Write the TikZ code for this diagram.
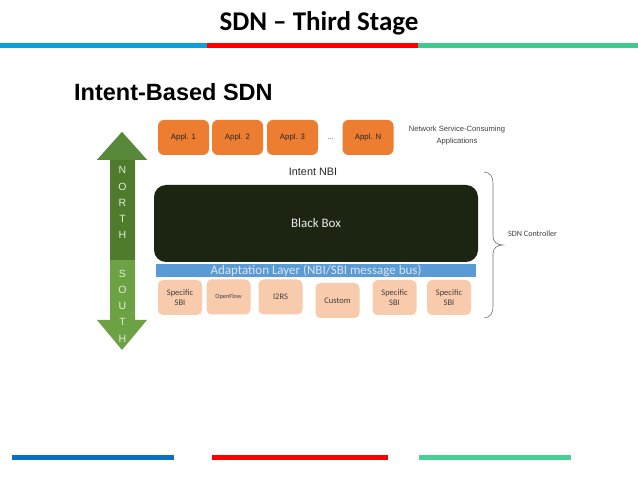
\documentclass[tikz,border=0pt]{standalone}
\usepackage{fontspec}
\setmainfont{Carlito}
\newfontfamily\arialf{Liberation Sans}
\definecolor{barblue}{HTML}{0BA0DC}
\definecolor{barred}{HTML}{FF0000}
\definecolor{bargreen}{HTML}{3FCA91}
\definecolor{botblue}{HTML}{0A70C2}
\definecolor{botgreen}{HTML}{48CF98}
\definecolor{applorange}{HTML}{ED7D31}
\definecolor{sbipeach}{HTML}{F8CBAD}
\definecolor{blackbox}{HTML}{1B2512}
\definecolor{adaptblue}{HTML}{5B9BD5}
\definecolor{adapttext}{HTML}{DCE5F4}
\definecolor{darkgreen}{HTML}{4F7B2D}
\definecolor{midgreen}{HTML}{58883A}
\definecolor{lightgreen}{HTML}{6DA244}
\definecolor{lettergreen}{HTML}{E0EDD6}
\definecolor{textgray}{HTML}{404040}
\tikzset{
  applbox/.style={fill=applorange, draw=none, rounded corners=6pt, minimum width=51pt, minimum height=35pt, inner sep=0pt, font=\arialf\fontsize{7.8}{9}\selectfont, text=black!85},
  sbibox/.style={fill=sbipeach, draw=none, rounded corners=5pt, minimum width=44pt, minimum height=35pt, inner sep=0pt, align=center, font=\fontsize{8.5}{10.5}\selectfont, text=textgray},
  letter/.style={font=\arialf\fontsize{10.5}{11}\selectfont, text=lettergreen, inner sep=0pt},
  smalltext/.style={font=\arialf\fontsize{7.6}{12}\selectfont, text=textgray, align=center, inner sep=0pt}
}
\begin{document}
\begin{tikzpicture}[x=1pt,y=-1pt]
\useasboundingbox (0,0) rectangle (638,478);
\fill[white] (0,0) rectangle (638,478);
% title
\node[font=\bfseries\fontsize{27}{32}\selectfont, inner sep=0pt, anchor=base] (title) at (319,31) {SDN -- Third Stage};
\fill[barblue] (0,43) rectangle (207,48);
\fill[barred] (207,43) rectangle (418,48);
\fill[bargreen] (418,43) rectangle (638,48);
% bottom bars
\fill[botblue] (12,455) rectangle (174,460);
\fill[barred] (212,455) rectangle (388,460);
\fill[botgreen] (419,455) rectangle (571,460);
% subtitle
\node[font=\arialf\bfseries\fontsize{23.5}{28}\selectfont, inner sep=0pt, anchor=base west] (sub) at (74,101) {Intent-Based SDN};
% applications
\node[applbox] (a1) at (183.5,137.5) {Appl. 1};
\node[applbox] (a2) at (237.5,137.5) {Appl. 2};
\node[applbox] (a3) at (292.5,137.5) {Appl. 3};
\node[font=\arialf\fontsize{7}{8}\selectfont, text=textgray, inner sep=0pt] (dots) at (330.5,139) {...};
\node[applbox] (an) at (368,137.5) {Appl. N};
\node[smalltext] (nsca) at (457,136) {Network Service-Consuming\\Applications};
% intent NBI
\node[font=\arialf\fontsize{10.8}{12}\selectfont, text=black!85, inner sep=0pt] (nbi) at (313,172) {Intent NBI};
% black box
\node[fill=blackbox, rounded corners=12pt, minimum width=324pt, minimum height=77pt, inner sep=0pt, text=white!92!black, font=\fontsize{13}{15}\selectfont] (bb) at (316,223.5) {Black Box};
% adaptation layer
\node[fill=adaptblue, minimum width=320pt, minimum height=13pt, inner sep=0pt, text=adapttext, font=\fontsize{13}{14}\selectfont] (adapt) at (316,270.5) {Adaptation Layer (NBI/SBI message bus)};
% SBIs
\node[sbibox] (s1) at (180,297.5) {Specific\\SBI};
\node[sbibox, font=\fontsize{6.3}{8}\selectfont] (s2) at (228.5,297) {OpenFlow};
\node[sbibox] (s3) at (280.5,297) {I2RS};
\node[sbibox] (s4) at (337.5,300.5) {Custom};
\node[sbibox] (s5) at (394.5,297.5) {Specific\\SBI};
\node[sbibox] (s6) at (449,297.5) {Specific\\SBI};
% brace
\draw[black!55, line width=0.6pt] (484,172) .. controls (490,172.5) and (493,176) .. (493,184) -- (493,236) .. controls (493,242) and (497,245) .. (503,245) .. controls (497,245) and (493,248) .. (493,254) -- (493,306) .. controls (493,314) and (490,317.5) .. (484,318);
\node[font=\fontsize{8.1}{10}\selectfont, text=textgray, anchor=west, inner sep=0pt] (ctrl) at (508,234) {SDN Controller};
% north-south arrow
\fill[lightgreen] (122,132) -- (147,160) -- (135,160) -- (135,320) -- (147,320) -- (122,350) -- (97,320) -- (110,320) -- (110,160) -- (97,160) -- cycle;
\fill[midgreen] (122,132) -- (147,160) -- (97,160) -- cycle;
\fill[darkgreen] (110,160) rectangle (135,260);
\node[letter] (ln) at (122.5,170) {N};
\node[letter] (lo) at (122.5,186.5) {O};
\node[letter] (lr) at (122.5,203) {R};
\node[letter] (lt) at (122.5,219) {T};
\node[letter] (lh) at (122.5,235) {H};
\node[letter] (ls) at (122.5,274) {S};
\node[letter] (lo2) at (122.5,290) {O};
\node[letter] (lu) at (122.5,306) {U};
\node[letter] (lt2) at (122.5,322) {T};
\node[letter] (lh2) at (122.5,339) {H};
\end{tikzpicture}
\end{document}
